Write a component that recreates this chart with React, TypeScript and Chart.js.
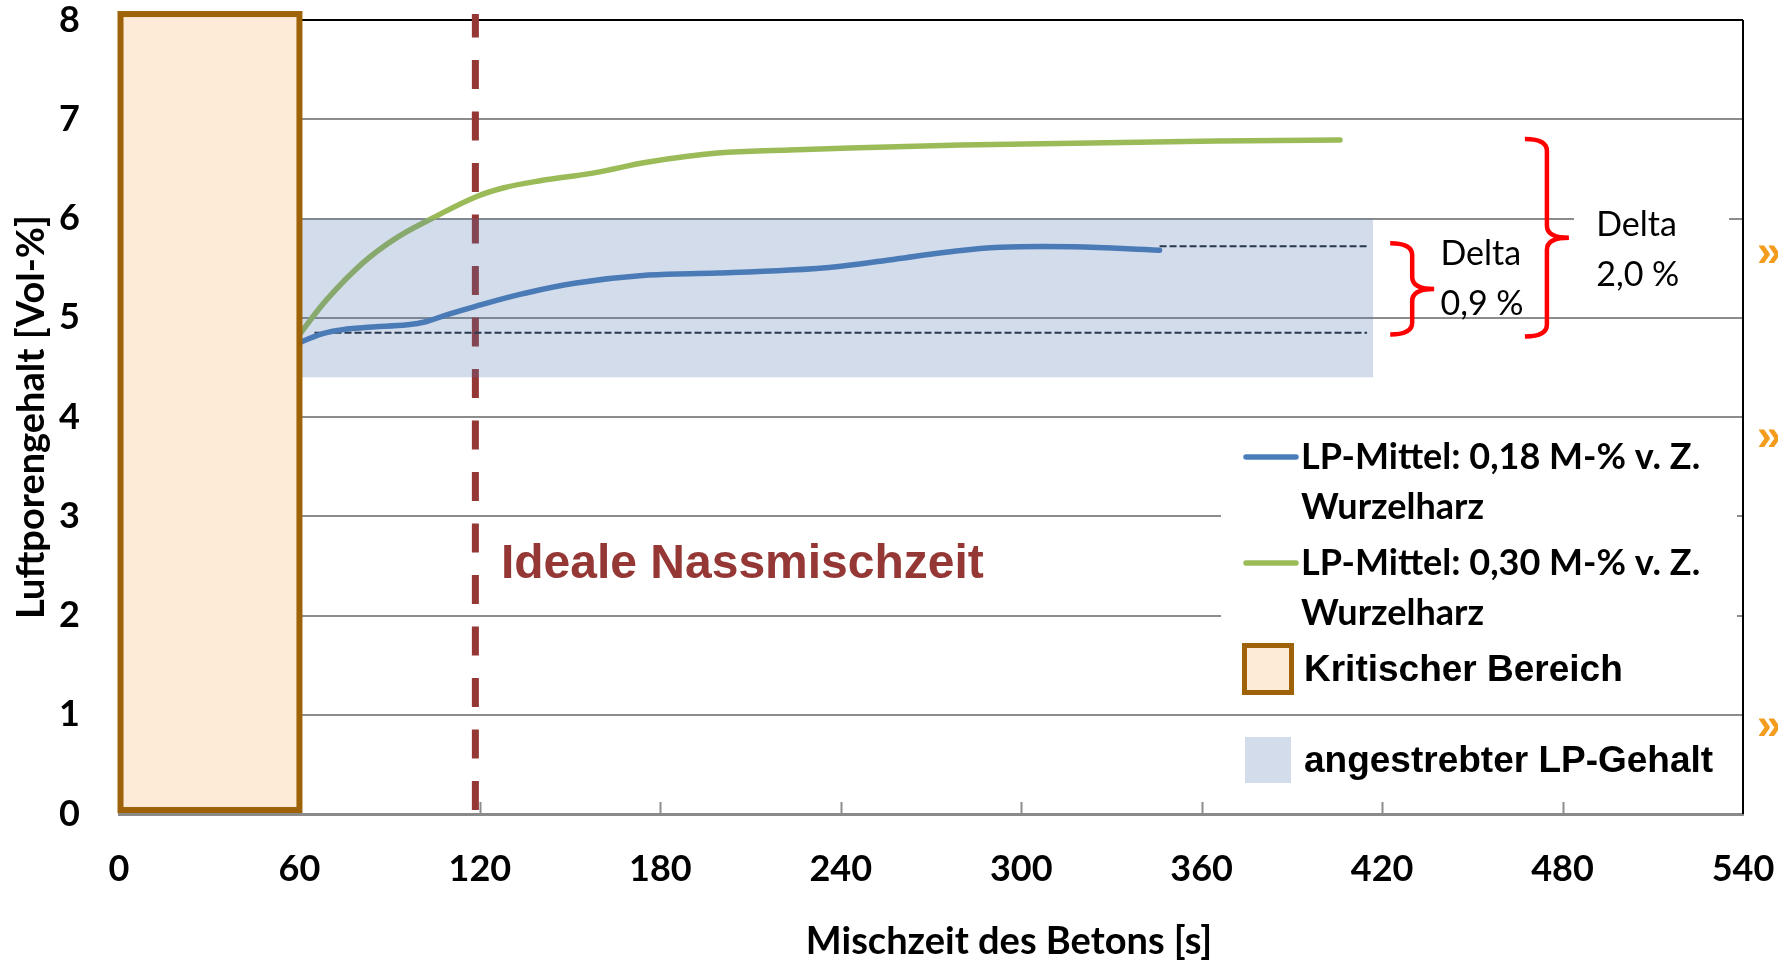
import React, { useEffect, useRef } from "react";
import { Chart, registerables } from "chart.js";

Chart.register(...registerables);

// ---------- data ----------
const xMin = 0;
const xMax = 540;
const xStep = 60;
const yMin = 0;
const yMax = 8;
const yStep = 1;

const seriesLabels = ["LP-Mittel: 0,18 M-% v. Z.", "LP-Mittel: 0,30 M-% v. Z."];
const seriesLabelLine2 = "Wurzelharz";

// LP-Mittel 0,18 M-% (blue)
const blueX = [60, 69, 81, 96, 102, 110, 118, 134, 152, 176, 199, 223, 240, 258, 275, 293, 317, 346];
const blueY = [4.75, 4.85, 4.9, 4.93, 4.96, 5.04, 5.11, 5.24, 5.35, 5.43, 5.45, 5.48, 5.52, 5.59, 5.66, 5.71, 5.715, 5.68];

// LP-Mittel 0,30 M-% (green)
const greenX = [60, 69, 81, 92, 104, 118, 128, 140, 158, 176, 199, 223, 243, 280, 323, 365, 406];
const greenY = [4.83, 5.18, 5.55, 5.8, 6.0, 6.21, 6.31, 6.38, 6.46, 6.57, 6.66, 6.69, 6.71, 6.74, 6.76, 6.78, 6.79];

// dashed reference lines
const refLowX = [65, 415];
const refLowY = [4.85, 4.85];
const refHighX = [346, 415];
const refHighY = [5.72, 5.72];

// target band (angestrebter LP-Gehalt)
const bandX = [60, 417];
const bandY = [4.4, 6.0];
const bandLabel = "angestrebter LP-Gehalt";

// critical zone (Kritischer Bereich)
const criticalX = [0.5, 60];
const criticalY = [0.04, 8.06];
const criticalLabel = "Kritischer Bereich";

// ideal wet-mixing time
const idealTime = 118.5;
const idealLabel = "Ideale Nassmischzeit";
const idealLabelPos = [127, 2.38];

// delta braces
const braceX = [430, 474.8];
const braceLow = [4.83, 4.81];
const braceHigh = [5.75, 6.8];
const deltaWord = "Delta";
const deltaValues = ["0,9 %", "2,0 %"];
const deltaTextX = [439.4, 491.2];
const deltaTextY = [5.527, 5.82];

const xTitle = "Mischzeit des Betons [s]";
const yTitle = "Luftporengehalt [Vol-%]";

// ---------- styles ----------
const BLUE = "#4A7EBB";
const GREEN = "#9BBB59";
const DARKRED = "#953735";
const BAND = "rgba(79,115,171,0.25)";
const BAND_SWATCH = "#D3DCEA";
const CRIT_FILL = "#FDEBD7";
const CRIT_EDGE = "#9E6208";
const GRID = "#8c8c8c";
const CALIBRI = "Lato, 'Noto Sans', sans-serif";
const ARIAL = "'Liberation Sans', Arial, sans-serif";

function brace(ctx: CanvasRenderingContext2D, spine: number, yTop: number, yBot: number) {
  const tip = spine - 22;
  const point = spine + 22;
  const mid = (yTop + yBot) / 2;
  const r = 12;
  ctx.beginPath();
  ctx.moveTo(tip, yTop);
  ctx.quadraticCurveTo(spine, yTop, spine, yTop + r);
  ctx.lineTo(spine, mid - r);
  ctx.quadraticCurveTo(spine, mid, point, mid);
  ctx.moveTo(point, mid);
  ctx.quadraticCurveTo(spine, mid, spine, mid + r);
  ctx.lineTo(spine, yBot - r);
  ctx.quadraticCurveTo(spine, yBot, tip, yBot);
  ctx.stroke();
}

const overlay = {
  id: "overlay",
  beforeDatasetsDraw(chart: any) {
    const { ctx, scales } = chart;
    const xs = scales.x;
    const ys = scales.y;
    const x = xs.getPixelForValue(idealTime);
    const top = ys.getPixelForValue(8.06);
    const bot = ys.getPixelForValue(0.03);
    ctx.save();
    ctx.strokeStyle = DARKRED;
    ctx.lineWidth = 7;
    ctx.setLineDash([29, 22.5]);
    ctx.lineDashOffset = top - 8.5;
    ctx.beginPath();
    ctx.moveTo(x, top);
    ctx.lineTo(x, bot);
    ctx.stroke();
    ctx.restore();
  },
  afterDatasetsDraw(chart: any) {
    const { ctx, scales, chartArea } = chart;
    const xs = scales.x;
    const ys = scales.y;
    const px = (v: number) => xs.getPixelForValue(v);
    const py = (v: number) => ys.getPixelForValue(v);
    ctx.save();

    // target band (translucent, over lines)
    ctx.fillStyle = BAND;
    ctx.fillRect(px(bandX[0]), py(bandY[1]), px(bandX[1]) - px(bandX[0]), py(bandY[0]) - py(bandY[1]));

    // x tick marks (inside)
    ctx.strokeStyle = GRID;
    ctx.lineWidth = 2;
    for (let v = xMin + xStep; v < xMax; v += xStep) {
      const x = Math.round(px(v)) + 0.5;
      ctx.beginPath();
      ctx.moveTo(x, chartArea.bottom);
      ctx.lineTo(x, chartArea.bottom - 12);
      ctx.stroke();
    }

    // right border
    ctx.strokeStyle = "#000";
    ctx.lineWidth = 2;
    ctx.beginPath();
    ctx.moveTo(chartArea.right, chartArea.top);
    ctx.lineTo(chartArea.right, chartArea.bottom);
    ctx.stroke();

    // critical box
    const cx0 = px(criticalX[0]);
    const cx1 = px(criticalX[1]);
    const cy0 = py(criticalY[1]);
    const cy1 = py(criticalY[0]);
    ctx.fillStyle = CRIT_FILL;
    ctx.fillRect(cx0, cy0, cx1 - cx0, cy1 - cy0);
    ctx.strokeStyle = CRIT_EDGE;
    ctx.lineWidth = 6;
    ctx.strokeRect(cx0, cy0, cx1 - cx0, cy1 - cy0);

    // white text-box backgrounds
    ctx.fillStyle = "#fff";
    ctx.fillRect(1221, 430, 516, 275);
    ctx.fillRect(1574, 200, 155, 100);

    // legend
    ctx.lineCap = "round";
    ctx.lineWidth = 5.5;
    ctx.strokeStyle = BLUE;
    ctx.beginPath();
    ctx.moveTo(1246, 457);
    ctx.lineTo(1296, 457);
    ctx.stroke();
    ctx.strokeStyle = GREEN;
    ctx.beginPath();
    ctx.moveTo(1246, 563);
    ctx.lineTo(1296, 563);
    ctx.stroke();
    ctx.lineCap = "butt";
    ctx.fillStyle = "#000";
    ctx.textBaseline = "middle";
    ctx.textAlign = "left";
    ctx.font = `bold 36px ${CALIBRI}`;
    ctx.fillText(seriesLabels[0], 1301, 457);
    ctx.fillText(seriesLabelLine2, 1301, 507);
    ctx.fillText(seriesLabels[1], 1301, 563);
    ctx.fillText(seriesLabelLine2, 1301, 613);
    ctx.fillStyle = CRIT_FILL;
    ctx.fillRect(1244.5, 645.5, 47, 47);
    ctx.strokeStyle = CRIT_EDGE;
    ctx.lineWidth = 5;
    ctx.strokeRect(1244.5, 645.5, 47, 47);
    ctx.fillStyle = BAND_SWATCH;
    ctx.fillRect(1245, 737, 46, 46);
    ctx.fillStyle = "#000";
    ctx.font = `bold 37px ${ARIAL}`;
    ctx.fillText(criticalLabel, 1304, 671);
    ctx.fillText(bandLabel, 1304, 762);

    // braces
    ctx.strokeStyle = "#FF0000";
    ctx.lineWidth = 4.5;
    ctx.lineJoin = "round";
    for (let i = 0; i < braceX.length; i++) {
      brace(ctx, px(braceX[i]), py(braceHigh[i]), py(braceLow[i]));
    }

    // delta texts
    ctx.fillStyle = "#000";
    ctx.textBaseline = "alphabetic";
    ctx.font = `34px ${CALIBRI}`;
    for (let i = 0; i < deltaValues.length; i++) {
      const x = px(deltaTextX[i]);
      const y = py(deltaTextY[i]);
      ctx.fillText(deltaWord, x, y);
      ctx.fillText(deltaValues[i], x, y + 50);
    }

    // ideal time label
    ctx.fillStyle = DARKRED;
    ctx.font = `bold 48px ${ARIAL}`;
    ctx.fillText(idealLabel, px(idealLabelPos[0]), py(idealLabelPos[1]));

    // x axis title (offset to the right as in the original)
    ctx.fillStyle = "#000";
    ctx.font = `bold 38px ${CALIBRI}`;
    ctx.textAlign = "center";
    ctx.textBaseline = "middle";
    ctx.fillText(xTitle, 1009, 942);

    // page chevrons at right edge
    ctx.textAlign = "left";
    ctx.fillStyle = "#F39C1E";
    ctx.font = `bold 44px ${ARIAL}`;
    for (const y of [254, 438, 727]) ctx.fillText("\u00BB", 1757, y);

    ctx.restore();
  },
};

export default function App() {
  const ref = useRef<HTMLCanvasElement>(null);

  useEffect(() => {
    const canvas = ref.current;
    if (!canvas) return;
    const pts = (xs: number[], ys: number[]) => xs.map((x, i) => ({ x, y: ys[i] }));
    const zeroPad = (s: any) => {
      s.paddingTop = 0;
      s.paddingBottom = 0;
      s.paddingLeft = 0;
      s.paddingRight = 0;
    };
    const chart = new Chart(canvas, {
      type: "scatter",
      data: {
        datasets: [
          {
            label: seriesLabels[0],
            data: pts(blueX, blueY),
            showLine: true,
            borderColor: BLUE,
            backgroundColor: BLUE,
            borderWidth: 5.5,
            pointRadius: 0,
            tension: 0.4,
            borderCapStyle: "round",
            borderJoinStyle: "round",
          },
          {
            label: seriesLabels[1],
            data: pts(greenX, greenY),
            showLine: true,
            borderColor: GREEN,
            backgroundColor: GREEN,
            borderWidth: 5.5,
            pointRadius: 0,
            tension: 0.4,
            borderCapStyle: "round",
            borderJoinStyle: "round",
          },
          {
            label: "ref-low",
            data: pts(refLowX, refLowY),
            showLine: true,
            borderColor: "#1c2433",
            borderWidth: 2,
            borderDash: [7, 3],
            pointRadius: 0,
          },
          {
            label: "ref-high",
            data: pts(refHighX, refHighY),
            showLine: true,
            borderColor: "#1c2433",
            borderWidth: 2,
            borderDash: [7, 3],
            pointRadius: 0,
          },
        ],
      },
      options: {
        responsive: false,
        animation: false,
        devicePixelRatio: 1,
        layout: { padding: { left: 0, right: 35, top: 20, bottom: 0 } },
        plugins: { legend: { display: false }, tooltip: { enabled: false } },
        scales: {
          x: {
            type: "linear",
            min: xMin,
            max: xMax,
            ticks: {
              stepSize: xStep,
              autoSkip: false,
              maxRotation: 0,
              color: "#000",
              padding: 37,
              font: { family: CALIBRI, weight: "bold", size: 36, lineHeight: 1 },
            },
            grid: { display: false, drawTicks: false },
            border: { display: true, color: "#8a8a8a", width: 3 },
            title: { display: false, text: xTitle },
            afterFit(s: any) {
              s.height = 148;
              zeroPad(s);
            },
          },
          y: {
            type: "linear",
            min: yMin,
            max: yMax,
            ticks: {
              stepSize: yStep,
              color: "#000",
              padding: 39,
              font: { family: CALIBRI, weight: "bold", size: 36, lineHeight: 1 },
            },
            grid: {
              color: (c: any) => (c.tick && c.tick.value === yMax ? "#000" : GRID),
              lineWidth: 2,
              drawTicks: false,
            },
            border: { display: false },
            title: {
              display: true,
              text: yTitle,
              color: "#000",
              font: { family: CALIBRI, weight: "bold", size: 38, lineHeight: 1.2 },
              padding: { top: 9, bottom: 0 },
            },
            afterFit(s: any) {
              s.width = 119;
              zeroPad(s);
            },
          },
        },
      },
      plugins: [overlay],
    } as any);
    return () => chart.destroy();
  }, []);

  return (
    <div style={{ position: "absolute", left: 0, top: 0, width: 1778, height: 962, background: "#fff" }}>
      <canvas ref={ref} width={1778} height={962} style={{ display: "block", width: 1778, height: 962 }} />
    </div>
  );
}
